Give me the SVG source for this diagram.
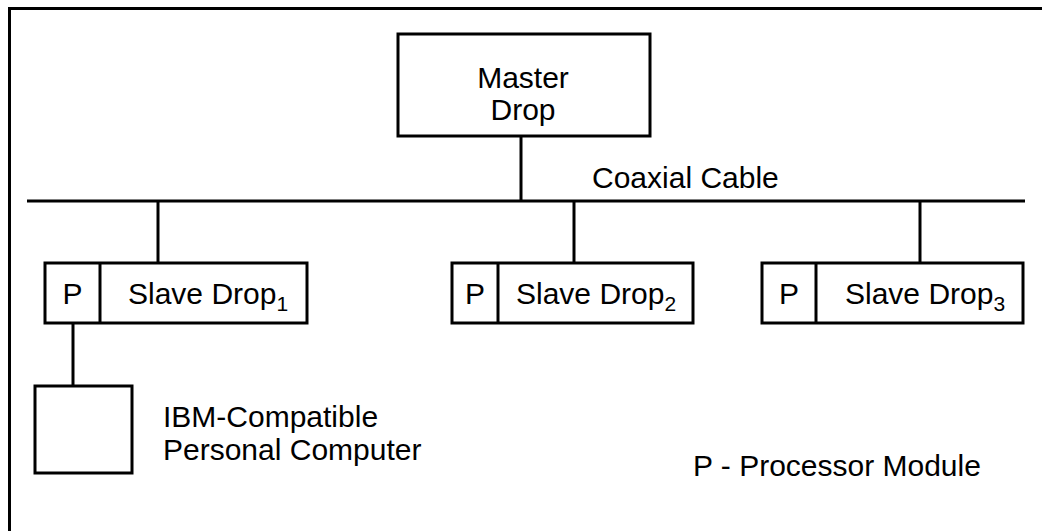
<svg xmlns="http://www.w3.org/2000/svg" width="1042" height="531" viewBox="0 0 1042 531">
<style>
.box{fill:#fff;stroke:#000;stroke-width:3}
.ln{fill:none;stroke:#000;stroke-width:3}
text{font-family:"Liberation Sans",Arial,sans-serif;font-size:30px;fill:#000}
.sub{font-size:21px}
</style>
<rect width="1042" height="531" fill="#fff"/>
<path class="ln" d="M9.5,531 V8.5 H1042"/>
<g id="connectors">
<line class="ln" x1="27" y1="201" x2="1025" y2="201"/>
<line class="ln" x1="521" y1="136" x2="521" y2="201"/>
<line class="ln" x1="158" y1="201" x2="158" y2="263"/>
<line class="ln" x1="574" y1="201" x2="574" y2="263"/>
<line class="ln" x1="920" y1="201" x2="920" y2="263"/>
<line class="ln" x1="73" y1="323" x2="73" y2="386"/>
</g>
<g id="cable-label"><text x="592" y="188">Coaxial Cable</text></g>
<g id="master">
<rect class="box" x="398" y="34" width="252" height="102"/>
<text x="523" y="88" text-anchor="middle">Master</text>
<text x="523" y="120" text-anchor="middle">Drop</text>
</g>
<g id="slave1">
<rect class="box" x="45" y="263" width="262" height="60"/>
<line class="ln" x1="100" y1="263" x2="100" y2="323"/>
<text x="72.5" y="304" text-anchor="middle">P</text>
<text x="128" y="304">Slave Drop<tspan class="sub" dy="7">1</tspan></text>
</g>
<g id="slave2">
<rect class="box" x="452" y="263" width="241" height="60"/>
<line class="ln" x1="498" y1="263" x2="498" y2="323"/>
<text x="475" y="304" text-anchor="middle">P</text>
<text x="516" y="304">Slave Drop<tspan class="sub" dy="7">2</tspan></text>
</g>
<g id="slave3">
<rect class="box" x="762" y="263" width="261" height="60"/>
<line class="ln" x1="816" y1="263" x2="816" y2="323"/>
<text x="789" y="304" text-anchor="middle">P</text>
<text x="845" y="304">Slave Drop<tspan class="sub" dy="7">3</tspan></text>
</g>
<g id="pc">
<rect class="box" x="35" y="386" width="97" height="87"/>
<text x="163" y="427">IBM-Compatible</text>
<text x="163" y="460">Personal Computer</text>
</g>
<g id="legend"><text x="693" y="476">P - Processor Module</text></g>
</svg>
